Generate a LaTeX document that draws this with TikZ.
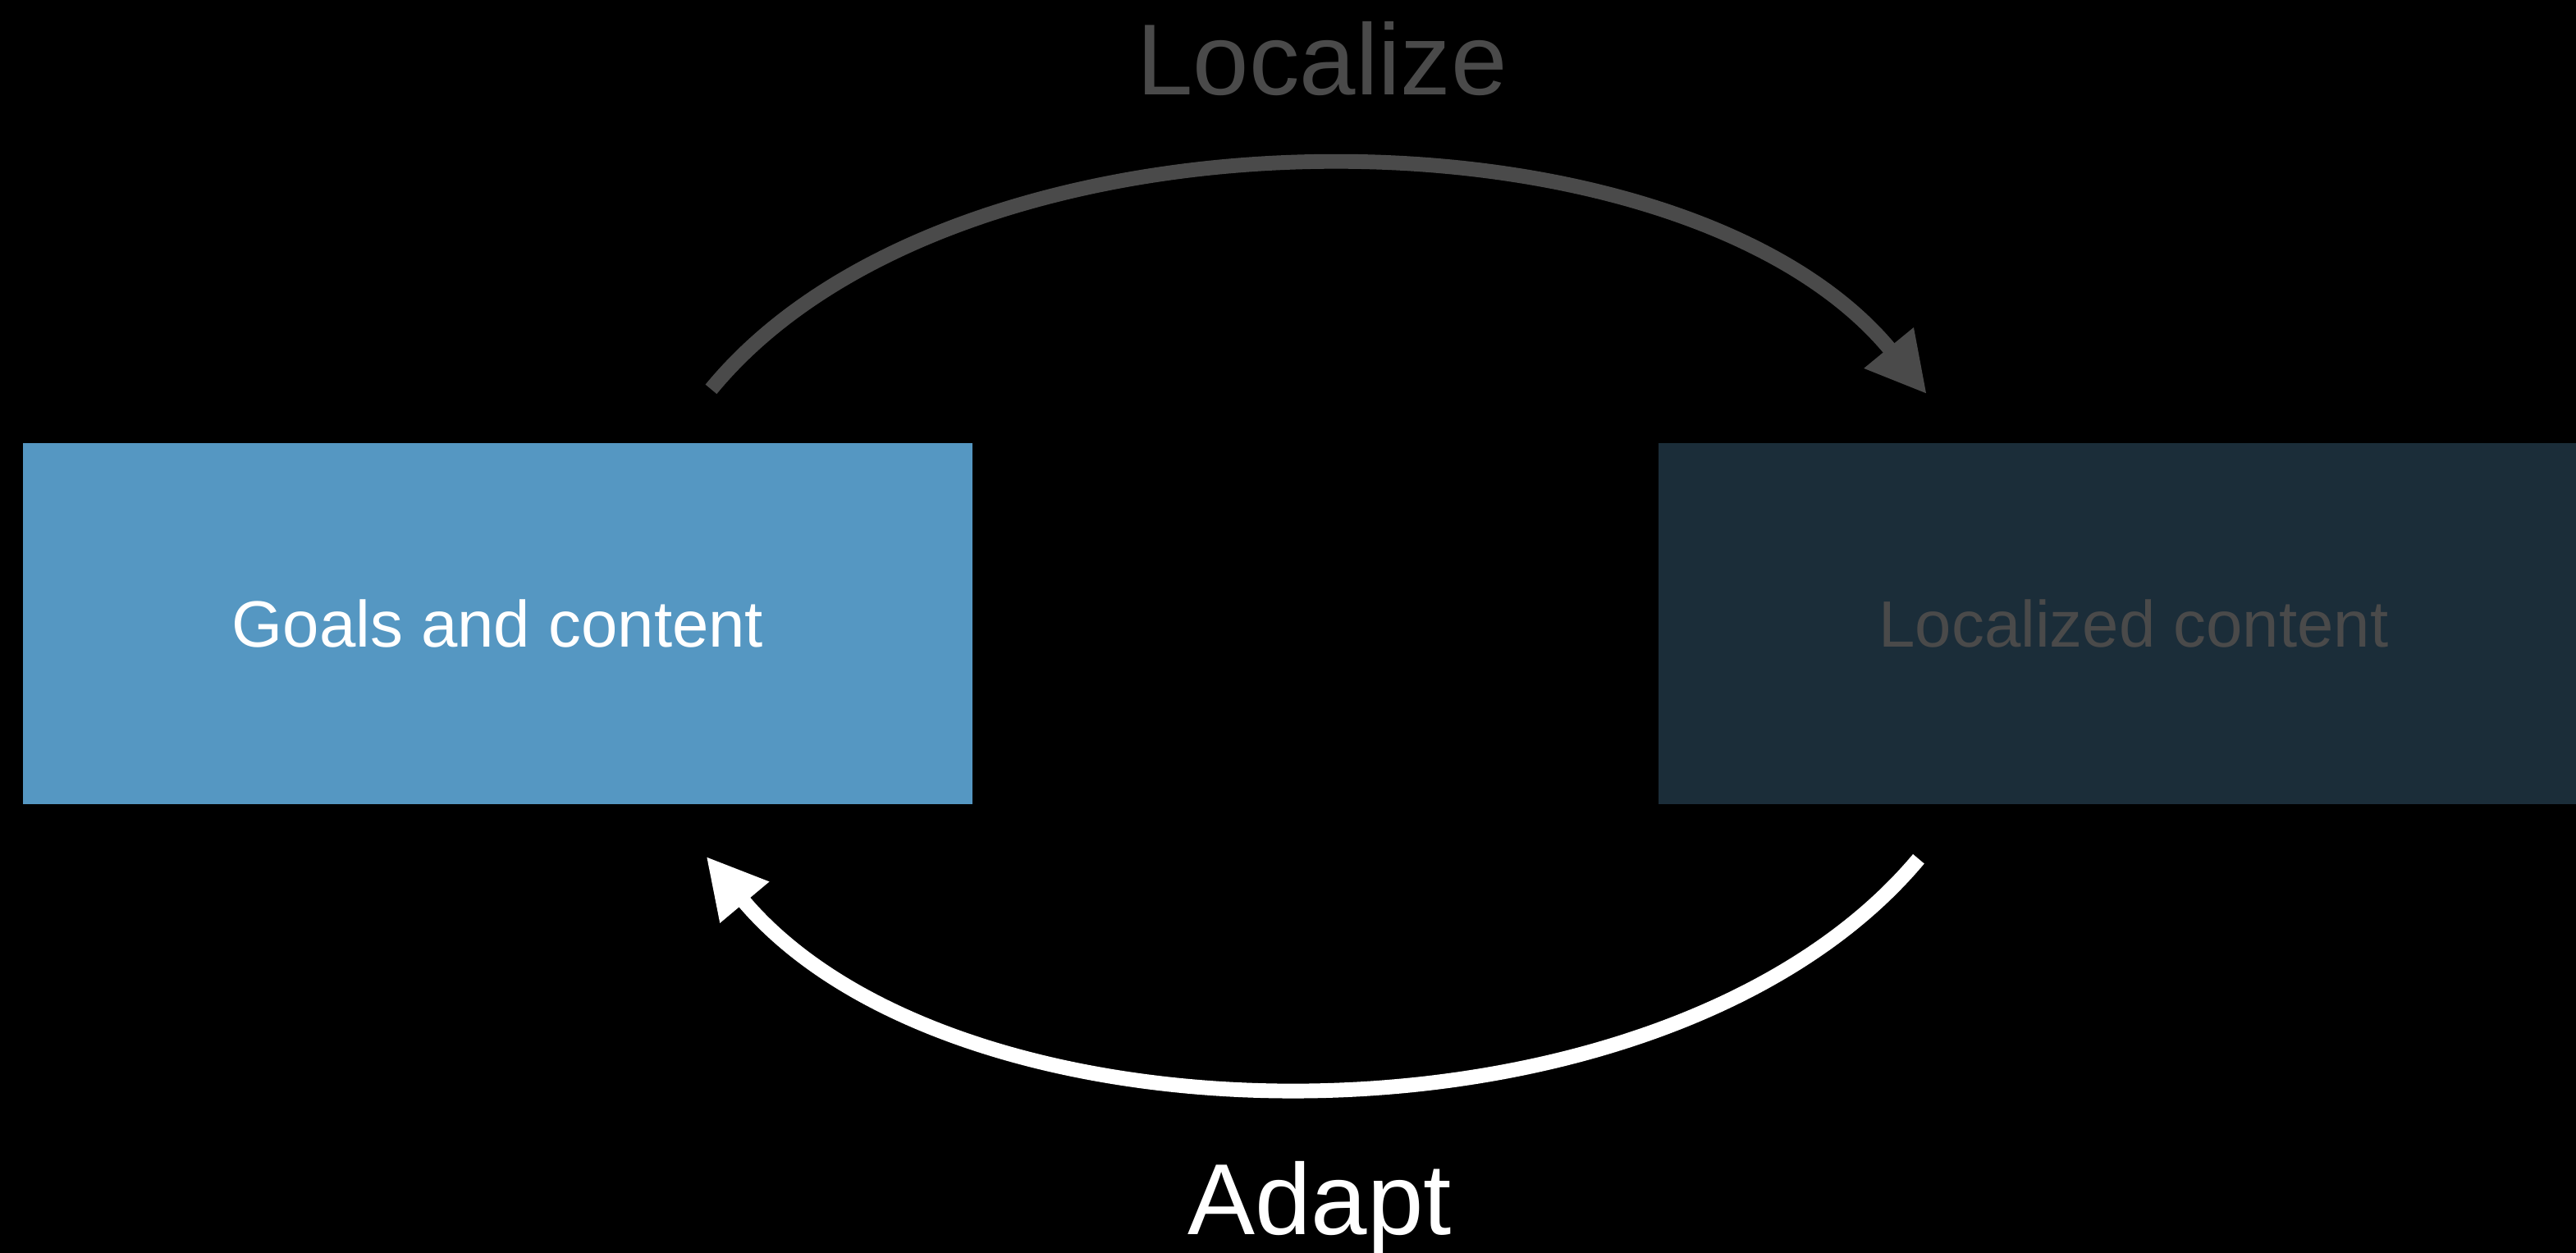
\documentclass[tikz,border=0pt]{standalone}
\usepackage{fontspec}
\setmainfont{Liberation Sans}
\usetikzlibrary{arrows.meta, positioning, calc}
\definecolor{boxblue}{RGB}{85, 151, 194}
\definecolor{boxdark}{RGB}{27, 45, 57}
\definecolor{arcgray}{RGB}{74, 74, 74}
\tikzstyle{block} = [rectangle, minimum width=11.57cm, minimum height=4.40cm, inner sep=0pt, align=center, font=\fontsize{22.7}{27}\selectfont]
\tikzstyle{looplabel} = [anchor=base, inner sep=0pt, font=\fontsize{35}{42}\selectfont]
\tikzstyle{loopline} = [draw, line width=5.1pt, -{Triangle[length=7.3mm, width=7.3mm]}]
\begin{document}
\begin{tikzpicture}
    % Background
    \useasboundingbox (0,0) rectangle (31.39,-15.26);
    \fill [black] (-0.2,0.2) rectangle (31.6,-15.5);

    % Nodes
    \node (goals) [block, fill=boxblue, text=white] at (6.065,-7.60) {Goals and content};
    \node (localized) [block, fill=boxdark, text=arcgray, right=8.35cm of goals] {Localized content};
    \coordinate (hub) at ($(goals.east)!0.5!(localized.west)$);
    \coordinate (locstart) at ($(goals.north)+(2.60,0.65)$);
    \coordinate (locend) at ($(localized.north)+(-2.52,0.59)$);
    \coordinate (adaptstart) at ($(localized.south)+(-2.62,-0.66)$);
    \coordinate (adaptend) at ($(goals.south)+(2.54,-0.63)$);
    \node (localize) [looplabel, text=arcgray] at ($(hub)+(0.08,6.45)$) {Localize};
    \node (adapt) [looplabel, text=white] at ($(hub)+(0.05,-7.44)$) {Adapt};

    % Paths
    \draw [loopline, arcgray] (locstart) .. controls ($(locstart)+(3.0,3.65)$) and ($(locend)+(-3.0,3.65)$) .. (locend);
    \draw [loopline, white] (adaptstart) .. controls ($(adaptstart)+(-3.1,-3.7)$) and ($(adaptend)+(3.1,-3.7)$) .. (adaptend);
\end{tikzpicture}
\end{document}
